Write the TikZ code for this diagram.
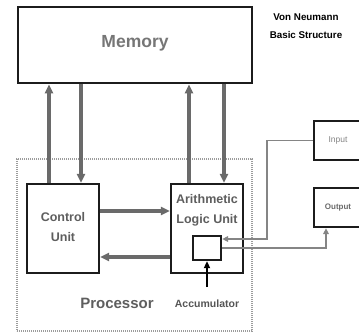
\documentclass[tikz,border=0pt]{standalone}
\usepackage{fontspec}
\setmainfont{Liberation Sans}
\usetikzlibrary{arrows.meta, positioning, calc}
\definecolor{busgray}{HTML}{6A6A6A}
\definecolor{iogray}{HTML}{858585}
\definecolor{boxline}{HTML}{1C1C1C}
\definecolor{textgray}{HTML}{5E5E5E}
\definecolor{dotgray}{HTML}{9C9C9C}

\begin{document}
\begin{tikzpicture}[x=1pt, y=-1pt,
  unit/.style={rectangle, draw=boxline, line width=2.3pt, fill=white, inner sep=0pt},
  cpu/.style={rectangle, draw=dotgray, line width=1.1pt, dash pattern=on 1.2pt off 0.8pt, inner sep=0pt},
  lbl/.style={text=textgray, align=center, inner sep=0pt},
  bus/.style={-{Triangle[length=9pt, width=8pt]}, line width=3.4pt, color=busgray},
  io/.style={-{Triangle[length=6pt, width=5.5pt]}, line width=1.6pt, color=iogray},
  accarr/.style={-{Triangle[length=7pt, width=6pt]}, line width=2pt, color=black},
]
\useasboundingbox (0,0) rectangle (359,332);
% --- processor frame ---
\node[cpu, minimum width=235pt, minimum height=172pt] (cpu) at (134.5,245) {};

% --- units ---
\node[unit, line width=2.6pt, minimum width=234pt, minimum height=76pt] (memory) at (135,45) {};
\node[lbl, text=textgray!85, font=\bfseries\fontsize{17.5}{18}\selectfont] (memtxt) at (135,43) {Memory};
\node[unit, minimum width=72pt, minimum height=89pt] (cu) at (63,228.5) {};
\node[lbl, font=\bfseries\fontsize{12.5}{20}\selectfont] (cutxt) at (63,227) {Control\\Unit};
\node[unit, minimum width=72pt, minimum height=89pt] (alu) at (207,228.5) {};
\node[lbl, font=\bfseries\fontsize{12.5}{20.5}\selectfont] (alutxt) at (207,210.5) {Arithmetic\\Logic Unit};
\node[unit, minimum width=28pt, minimum height=24pt] (acc) at (207,248) {};
\node[unit, minimum width=48pt, minimum height=39pt] (input) at (338,140.5) {};
\node[lbl, text=iogray, font=\fontsize{8.5}{9}\selectfont] (intxt) at (338,140.5) {Input};
\node[unit, minimum width=48pt, minimum height=39pt] (output) at (338,207.5) {};
\node[lbl, text=iogray!80!black, font=\bfseries\fontsize{8}{9}\selectfont] (outtxt) at (338,207.5) {Output};

% --- labels ---
\node[lbl, font=\bfseries\fontsize{15}{15}\selectfont] (proc) at (117,303) {Processor};
\node[lbl, text=textgray!90!black, font=\bfseries\fontsize{10.5}{10}\selectfont] (acclabel) at (207,304) {Accumulator};
\node[lbl, text=black, font=\bfseries\fontsize{9.8}{18}\selectfont] (title) at (306,26) {Von Neumann\\Basic Structure};

% --- memory bus ---
\draw[bus] ($(cu.north)+(-14,0)$) -- ($(cu.north |- memory.south)+(-14,0)$);
\draw[bus] ($(cu.north |- memory.south)+(18,0)$) -- ($(cu.north)+(18,0)$);
\draw[bus] ($(alu.north)+(-18,0)$) -- ($(alu.north |- memory.south)+(-18,0)$);
\draw[bus] ($(alu.north |- memory.south)+(17,0)$) -- ($(alu.north)+(17,0)$);

% --- control / alu ---
\draw[bus] ([yshift=17.5pt]cu.east) -- ([yshift=17.5pt]alu.west);
\draw[bus] ([yshift=-28.5pt]alu.west) -- ([yshift=-28.5pt]cu.east);

% --- accumulator and i/o ---
\coordinate (accsrc) at (207,287);
\draw[accarr] (accsrc) -- (acc.south);
\coordinate (inbend) at (267,239);
\draw[io] (input.west) -| (inbend) -- ([yshift=9pt]acc.east);
\draw[io] (acc.east) -| ([xshift=-12pt]output.south);
\end{tikzpicture}
\end{document}
